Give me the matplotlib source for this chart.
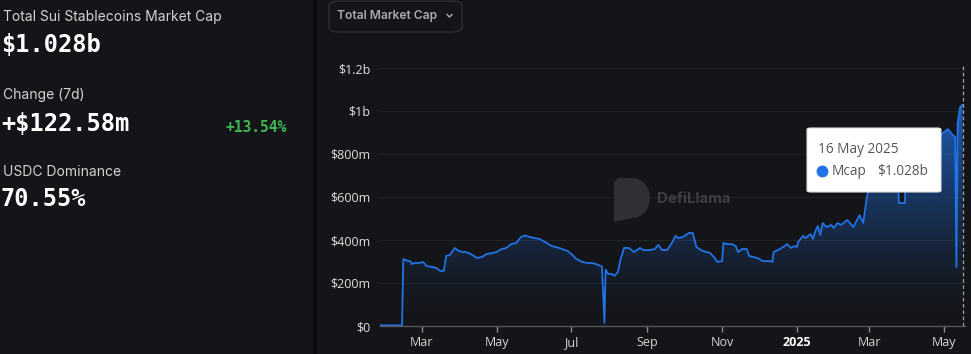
import numpy as np
import pandas as pd
import matplotlib
matplotlib.use("Agg")
from matplotlib import pyplot as plt
import matplotlib.dates as mdates
from matplotlib.patches import FancyBboxPatch, Rectangle, Polygon
from matplotlib.lines import Line2D
from matplotlib.ticker import FixedLocator, FixedFormatter

# --- data (values in $m) ---
dates = [
    "2024-01-27", "2024-02-14", "2024-02-15", "2024-02-19", "2024-02-21", "2024-02-22",
    "2024-02-24", "2024-02-28", "2024-03-02", "2024-03-05", "2024-03-10", "2024-03-13",
    "2024-03-16", "2024-03-19", "2024-03-21", "2024-03-24", "2024-03-28", "2024-03-30",
    "2024-04-03", "2024-04-06", "2024-04-10", "2024-04-15", "2024-04-19", "2024-04-23",
    "2024-04-28", "2024-05-01", "2024-05-05", "2024-05-09", "2024-05-13", "2024-05-17",
    "2024-05-21", "2024-05-24", "2024-05-28", "2024-06-01", "2024-06-05", "2024-06-11",
    "2024-06-15", "2024-06-21", "2024-06-28", "2024-07-01", "2024-07-05", "2024-07-10",
    "2024-07-14", "2024-07-18", "2024-07-21", "2024-07-25", "2024-07-26", "2024-07-28",
    "2024-07-29", "2024-07-31", "2024-08-03", "2024-08-05", "2024-08-08", "2024-08-10",
    "2024-08-13", "2024-08-17", "2024-08-21", "2024-08-26", "2024-08-29", "2024-09-03",
    "2024-09-07", "2024-09-10", "2024-09-13", "2024-09-17", "2024-09-21", "2024-09-24",
    "2024-09-26", "2024-09-30", "2024-10-05", "2024-10-08", "2024-10-11", "2024-10-16",
    "2024-10-22", "2024-10-26", "2024-10-28", "2024-11-01", "2024-11-02", "2024-11-05",
    "2024-11-09", "2024-11-12", "2024-11-14", "2024-11-17", "2024-11-21", "2024-11-23",
    "2024-11-26", "2024-11-30", "2024-12-04", "2024-12-10", "2024-12-12", "2024-12-13",
    "2024-12-18", "2024-12-22", "2024-12-24", "2024-12-27", "2024-12-30", "2025-01-01",
    "2025-01-02", "2025-01-06", "2025-01-08", "2025-01-12", "2025-01-14", "2025-01-16",
    "2025-01-18", "2025-01-20", "2025-01-22", "2025-01-25", "2025-01-29", "2025-01-31",
    "2025-02-03", "2025-02-06", "2025-02-11", "2025-02-16", "2025-02-21", "2025-02-24",
    "2025-02-27", "2025-03-03", "2025-03-10", "2025-03-18", "2025-03-24", "2025-03-25",
    "2025-03-30", "2025-03-31", "2025-04-10", "2025-04-20", "2025-04-28", "2025-05-04",
    "2025-05-08", "2025-05-10", "2025-05-11", "2025-05-12", "2025-05-14", "2025-05-16",
]
mcap = [
    3, 3, 311, 302, 300, 288,
    293, 293, 298, 279, 274, 270,
    256, 256, 326, 330, 363, 353,
    344, 344, 335, 316, 321, 335,
    340, 344, 358, 363, 381, 386,
    414, 421, 414, 409, 405, 386,
    372, 363, 349, 335, 312, 298,
    293, 293, 288, 279, 276, 14,
    262, 242, 242, 233, 251, 307,
    363, 363, 344, 363, 353, 353,
    358, 377, 353, 353, 386, 419,
    409, 414, 433, 433, 367, 349,
    340, 316, 298, 302, 386, 381,
    381, 372, 344, 358, 358, 326,
    321, 316, 302, 302, 298, 344,
    358, 372, 381, 363, 372, 367,
    391, 419, 409, 428, 405, 442,
    465, 423, 479, 460, 470, 456,
    479, 470, 493, 460, 516, 479,
    600, 700, 800, 830, 840, 572,
    572, 850, 870, 880, 888, 916,
    888, 880, 274, 944, 1018, 1028,
]
ytick_vals = [0, 200, 400, 600, 800, 1000, 1200]
ytick_labels = ["$0", "$200m", "$400m", "$600m", "$800m", "$1b", "$1.2b"]
xtick_dates = ["2024-03-01", "2024-05-01", "2024-07-01", "2024-09-01", "2024-11-01",
               "2025-01-01", "2025-03-01", "2025-05-01"]
xtick_labels = ["Mar", "May", "Jul", "Sep", "Nov", "2025", "Mar", "May"]

BG = "#141518"
BLUE = "#2172e5"
W, H = 971, 354


def fx(x):
    return x / W


def fy(y):
    return 1 - y / H


fig = plt.figure(figsize=(W / 100, H / 100), dpi=100, facecolor=BG)

# separator between stats panel and chart
fig.patches.append(Rectangle((fx(313), 0), fx(4), 1, transform=fig.transFigure,
                             facecolor="#0b0b0c", edgecolor="none", zorder=1))

# --- left stats panel ---
lab = dict(family="Inter", color="#d2d2d2", fontsize=10, va="center", ha="left")
num = dict(family="DejaVu Sans Mono", color="#ffffff", fontsize=17, fontweight="bold",
           va="center", ha="left")
fig.text(fx(3), fy(17), "Total Sui Stablecoins Market Cap", **lab)
fig.text(fx(1), fy(45), "$1.028b", **num)
fig.text(fx(3), fy(95), "Change (7d)", **lab)
fig.text(fx(1), fy(124), "+$122.58m", **num)
fig.text(fx(225), fy(127), "+13.54%", family="DejaVu Sans Mono", color="#3fb84f",
         fontsize=10.5, fontweight="bold", va="center", ha="left")
fig.text(fx(3), fy(172), "USDC Dominance", **lab)
fig.text(fx(1), fy(199), "70.55%", **num)

# --- dropdown button ---
fig.patches.append(FancyBboxPatch((fx(329), fy(32)), fx(133), 31 / H,
                                  boxstyle="round,pad=0,rounding_size=0.012",
                                  transform=fig.transFigure, facecolor=BG,
                                  edgecolor="#2c2d31", linewidth=1, zorder=2))
fig.text(fx(337), fy(16), "Total Market Cap", family="Inter", fontweight="semibold",
         fontsize=8.7, color="#a8abb1", va="center", ha="left", zorder=3)
fig.add_artist(Line2D([fx(447), fx(449.5), fx(452)], [fy(14.5), fy(17), fy(14.5)],
                      transform=fig.transFigure, color="#a8abb1", lw=1, zorder=3))

# --- chart ---
x = pd.to_datetime(dates)
xn = mdates.date2num(x)
y = np.array(mcap, dtype=float)
ymax = 1220
ax = fig.add_axes([fx(380), fy(326), fx(965) - fx(380), (ymax / 1200 * 258) / H])
ax.set_facecolor(BG)
x0 = mdates.date2num(pd.Timestamp("2024-01-27"))
x1 = mdates.date2num(pd.Timestamp("2025-05-18"))

for v in ytick_vals:
    ax.axhline(v, color="#222327", lw=0.8, zorder=0)

# gradient fill under the curve
poly = ax.fill_between(xn, y, 0, color="none", lw=0)
top = y.max()
f = np.linspace(0, 1, 256)[:, None]
rgba = np.zeros((256, 1, 4))
rgba[..., 0] = 0x21 / 255
rgba[..., 1] = 0x72 / 255
rgba[..., 2] = 0xe5 / 255
rgba[..., 3] = 0.8 * f ** 1.5
im = ax.imshow(rgba, extent=[xn[0], xn[-1], 0, top], origin="lower", aspect="auto",
               zorder=1, interpolation="bilinear")
im.set_clip_path(poly.get_paths()[0], transform=ax.transData)
ax.set_xlim(x0, x1)
ax.set_ylim(0, ymax)

ax.plot(xn, y, color=BLUE, lw=1.3, zorder=2, solid_joinstyle="round")
ax.axvline(xn[-1], color="#a0a0a0", lw=0.9, ls=(0, (3, 2)), zorder=3)

for s in ["top", "right", "left"]:
    ax.spines[s].set_visible(False)
ax.spines["bottom"].set_color("#55575c")
ax.spines["bottom"].set_linewidth(1)

ax.yaxis.set_major_locator(FixedLocator(ytick_vals))
ax.yaxis.set_major_formatter(FixedFormatter(ytick_labels))
ax.tick_params(axis="y", length=0, pad=7, labelsize=9, labelcolor="#e0e0e0")
xt = mdates.date2num(pd.to_datetime(xtick_dates))
ax.xaxis.set_major_locator(FixedLocator(xt))
ax.xaxis.set_major_formatter(FixedFormatter(xtick_labels))
ax.tick_params(axis="x", length=4, width=1, color="#8a8c90", pad=3, labelsize=9,
               labelcolor="#d6d6d6")
for t in ax.get_xticklabels() + ax.get_yticklabels():
    t.set_family("Open Sans")
ax.get_xticklabels()[5].set_fontweight("bold")
ax.get_xticklabels()[5].set_color("#ffffff")

# --- watermark: D-shaped logo + name ---
ang = np.linspace(-np.pi / 2, np.pi / 2, 40)
logo = [(614, 222), (614, 182), (618, 178), (632, 178)]
logo += [(632 + 18 * np.cos(a), 198 - 20 * np.sin(a)) for a in ang[::-1]]
logo = [(fx(px), fy(py)) for px, py in logo]
fig.patches.append(Polygon(logo, closed=True, transform=fig.transFigure,
                           facecolor="#2f3033", edgecolor="none", zorder=1))
fig.text(fx(657), fy(199), "DefiLlama", family="Inter", fontweight="bold", fontsize=10.8,
         color="#3e3f42", va="center", ha="left")

# --- tooltip ---
fig.patches.append(FancyBboxPatch((fx(807), fy(192)), fx(134), 64 / H,
                                  boxstyle="round,pad=0,rounding_size=0.004",
                                  transform=fig.transFigure, facecolor="#ffffff",
                                  edgecolor="#dddddd", linewidth=0.8, zorder=10))
fig.text(fx(818), fy(149), "16 May 2025", family="Open Sans", fontsize=9.8,
         color="#555555", va="center", ha="left", zorder=11)
fig.add_artist(Line2D([fx(822)], [fy(171)], transform=fig.transFigure, marker="o",
                      markersize=7.5, color=BLUE, lw=0, zorder=11))
fig.text(fx(832), fy(171), "Mcap", family="Open Sans", fontsize=9.8,
         color="#555555", va="center", ha="left", zorder=11)
fig.text(fx(877), fy(171), "$1.028b", family="Open Sans", fontsize=9.8,
         color="#555555", va="center", ha="left", zorder=11)

fig.savefig("out.png", dpi=100, facecolor=BG)
